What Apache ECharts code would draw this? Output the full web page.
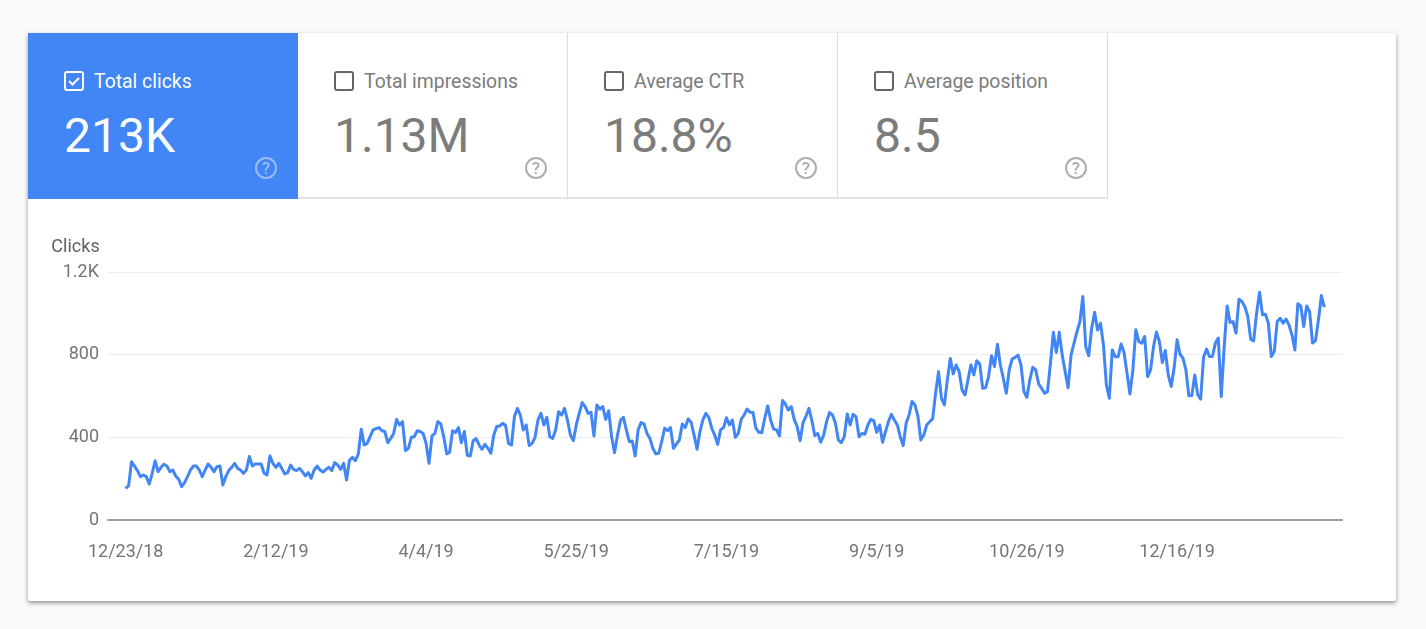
<!DOCTYPE html>
<html>
<head>
<meta charset="utf-8">
<title>Performance</title>
<script src="https://cdn.jsdelivr.net/npm/echarts@6/dist/echarts.min.js"></script>
<style>
  html, body { margin: 0; height: 100%; background: #fafafa; font-family: Roboto, sans-serif; overflow: hidden; }
  .card { position: absolute; left: 28px; top: 33px; width: 1368px; height: 568px; background: #fff; border-radius: 2px;
          box-shadow: 0 2px 4px rgba(0,0,0,.42); }
  .tile { position: absolute; top: 0; width: 270px; height: 166px; box-sizing: border-box; color: #7b7b7b;
          border-right: 1px solid #ddd; border-bottom: 2px solid #e4e4e4; }
  .tile.on { background: #4285f4; color: #fff; border: 0; }
  .tile svg { position: absolute; }
  .tile .box { left: 35px; top: 37px; color: #666; }
  .tile.on .box { color: #fff; }
  .tile .help { left: 226px; top: 123px; }
  .tile .name { position: absolute; left: 66px; top: 38px; font-size: 19.4px; line-height: 22px; white-space: nowrap; opacity: .99; }
  .tile .num { position: absolute; left: 36px; top: 73px; font-size: 48px; line-height: 60px; white-space: nowrap; opacity: .99; }
  #main { position: absolute; left: 0; top: 166px; width: 1368px; height: 402px; }
</style>
</head>
<body>
<div class="card">
  <div id="tiles"></div>
  <div id="main"></div>
</div>
<script>
// tiles
var tileNames = ['Total clicks', 'Total impressions', 'Average CTR', 'Average position'];
var tileValues = ['213K', '1.13M', '18.8%', '8.5'];

// y axis
var yTicks = [0, 400, 800, 1200];

// x axis labels, and which day of the series each one sits on
var xLabels = ['12/23/18', '2/12/19', '4/4/19', '5/25/19', '7/15/19', '9/5/19', '10/26/19', '12/16/19'];
var xLabelDays = [0, 51, 102, 153, 204, 255, 306, 357];

// daily clicks, first day is 12/23/18
var clicksWinter = [153,165,282,261,239,210,218,210,174,226,286,234,255,270,261,234,242,213,197,161,181,210,242,261,261,242,210,242,271,255,234,258,261,169,210,239,255,274,250,242,226,242,307,261,271,271,271,226,218,310,274,255,274,250,223,229,266,245,239,250,234,213,229,202,242,261,242,232,245,255,239,278,266,245,274,194,290,303,287,320,439,363,371,403,436,442,447,432,428,374,395,419,487,460];
var clicksSpring = [476,336,347,400,403,432,428,419,371,274,407,419,476,465,403,320,328,432,423,447,374,428,313,310,384,394,363,342,366,347,323,411,452,455,468,457,371,363,500,540,508,436,460,360,371,400,484,516,460,497,403,395,436,524,508,540,484,411,384,460,516,568,549,516,521,407,557,536,549,487,529,403,326,411,481,497,436,379,382,310,436,471,465,419];
var clicksSummer = [395,347,320,323,379,444,432,447,347,368,387,465,447,489,473,411,342,428,484,516,497,444,411,366,436,447,495,460,484,400,419,487,508,537,521,520,444,424,423,492,552,484,440,436,407,578,561,532,549,487,452,384,471,503,540,481,408,419,376,411,476,520,508,468,387,374,403,513,460,511,500,403,419,415,460,487,481,424,460,376,428,476,511,484,460,403,360,468,508,573,557,503,387,411,460,476,489];
var clicksAutumn = [613,718,589,557,678,782,707,750,718,629,605,678,750,702,771,755,637,640,694,795,742,850,750,686,613,726,779,787,798,750,621,594,678,739,726,658,637,613,621,758,908,811,908,798,718,640,798,855,911,960,1081,839,795,928,1005,919,952,847,653,589,823,790,790];
var clicksEnd = [852,810,710,610,726,920,864,856,888,694,726,839,909,864,762,820,702,646,735,872,802,783,726,601,602,702,606,585,788,827,791,791,856,880,597,839,1036,956,960,904,1068,1057,1033,985,875,867,1001,1102,993,996,952,791,815,960,976,952,972,944,896,823,1046,1036,936,1036,1009,856,868,968,1086,1030];

var clicks = clicksWinter.concat(clicksSpring, clicksSummer, clicksAutumn, clicksEnd);
var seriesData = clicks.map(function (v, i) {
  return [i, v];
});

// tiles are plain html
var unchecked = '<svg class="box" width="22" height="22" viewBox="0 0 22 22"><rect x="2" y="2" width="18" height="18" rx="2" fill="none" stroke="currentColor" stroke-width="2"/></svg>';
var checked = '<svg class="box" width="22" height="22" viewBox="0 0 22 22"><rect x="2" y="2" width="18" height="18" rx="2" fill="none" stroke="currentColor" stroke-width="2"/><path d="M6 11l3.5 3.5L16 8" fill="none" stroke="currentColor" stroke-width="2"/></svg>';
var html = '';
tileNames.forEach(function (name, i) {
  var op = i === 0 ? 0.45 : 0.62;
  html += '<div class="tile' + (i === 0 ? ' on' : '') + '" style="left:' + (i * 270) + 'px">' +
    (i === 0 ? checked : unchecked) +
    '<div class="name">' + name + '</div>' +
    '<div class="num">' + tileValues[i] + '</div>' +
    '<svg class="help" width="24" height="24" viewBox="0 0 24 24" style="opacity:' + op + '">' +
    '<circle cx="12" cy="12" r="10" fill="none" stroke="currentColor" stroke-width="2"/>' +
    '<text x="12" y="18" text-anchor="middle" font-size="17" font-weight="500" font-family="Roboto" fill="currentColor">?</text></svg>' +
    '</div>';
});
document.getElementById('tiles').innerHTML = html;

var myChart = echarts.init(document.getElementById('main'));
myChart.setOption({
  animation: false,
  textStyle: { fontFamily: 'Roboto' },
  grid: { left: 80, right: 54, top: 73, bottom: 81 },
  xAxis: {
    type: 'value',
    min: -6,
    max: clicks.length - 1 + 6,
    axisLine: { onZero: false, lineStyle: { color: '#9e9e9e', width: 2 } },
    axisTick: { show: false },
    splitLine: { show: false },
    axisLabel: {
      customValues: xLabelDays,
      margin: 23,
      fontSize: 18,
      color: '#757575',
      formatter: function (v) {
        return xLabels[xLabelDays.indexOf(v)];
      }
    }
  },
  yAxis: {
    type: 'value',
    name: 'Clicks',
    nameLocation: 'end',
    nameGap: 16,
    nameTextStyle: { align: 'right', fontSize: 18, color: '#616161', padding: [0, 26, 0, 0] },
    min: yTicks[0],
    max: yTicks[yTicks.length - 1],
    interval: 400,
    axisLine: { show: false },
    axisTick: { show: false },
    splitLine: { lineStyle: { color: '#eeeeee', width: 1 } },
    axisLabel: {
      margin: 9,
      fontSize: 18,
      color: '#757575',
      padding: [4, 0, 0, 0],
      formatter: function (v) {
        return v >= 1000 ? (v / 1000).toFixed(1) + 'K' : String(v);
      }
    }
  },
  series: [{
    name: 'Clicks',
    type: 'line',
    data: seriesData,
    showSymbol: false,
    lineStyle: { color: '#4285f4', width: 3, join: 'round' },
    itemStyle: { color: '#4285f4' }
  }]
});
</script>
</body>
</html>
